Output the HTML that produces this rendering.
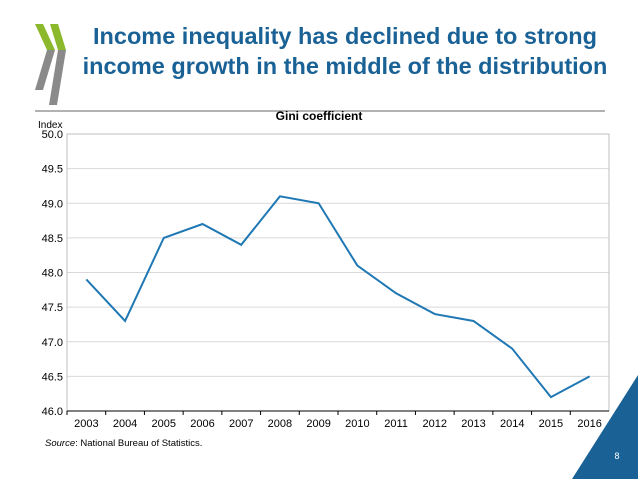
<!DOCTYPE html>
<html><head><meta charset="utf-8"><style>
body{margin:0;background:#fff;}
svg{display:block;font-family:"Liberation Sans",Arial,sans-serif;}
</style></head><body>
<svg id="c" width="638" height="479" viewBox="0 0 638 479">
<g>
<polygon points="35,24 43,24 55,50 47,50" fill="#8cb82b"/>
<polygon points="47,50 55,50 43,90 35,90" fill="#8a8a8a"/>
<polygon points="50,24 58,24 66,50 58,50" fill="#8cb82b"/>
<polygon points="58,50 66,50 57,105 49,105" fill="#8a8a8a"/>
</g>
<text x="345" y="44" text-anchor="middle" font-size="23.5" font-weight="bold" fill="#1a6296">Income inequality has declined due to strong</text>
<text x="345" y="74" text-anchor="middle" font-size="23.5" font-weight="bold" fill="#1a6296">income growth in the middle of the distribution</text>
<line x1="35" y1="111" x2="605" y2="111" stroke="#666" stroke-width="1"/>
<text x="319" y="120" text-anchor="middle" font-size="12" font-weight="bold" fill="#000">Gini coefficient</text>
<text x="38" y="128" font-size="10" fill="#000">Index</text>
<g id="grid"></g><g id="ax"></g><g id="series"></g>
<text x="45" y="446" font-size="9.5" fill="#000"><tspan font-style="italic">Source</tspan>: National Bureau of Statistics.</text>
<polygon points="638,375 638,479 572,479" fill="#1a6296"/>
<text x="617" y="459" font-size="9" fill="#fff" text-anchor="middle">8</text>
</svg>
<script>
const categories=["2003","2004","2005","2006","2007","2008","2009","2010","2011","2012","2013","2014","2015","2016"];
const giniValues=[47.9,47.3,48.5,48.7,48.4,49.1,49.0,48.1,47.7,47.4,47.3,46.9,46.2,46.5];
const yTicks=[46.0,46.5,47.0,47.5,48.0,48.5,49.0,49.5,50.0];
const NS="http://www.w3.org/2000/svg";
const L=67,R=609,T=134,B=411,ymin=46,ymax=50;
const bw=(R-L)/categories.length;
const xs=i=>L+bw*(i+0.5);
const ys=v=>B-(v-ymin)/(ymax-ymin)*(B-T);
function mk(tag,attrs,parent){const e=document.createElementNS(NS,tag);for(const k in attrs)e.setAttribute(k,attrs[k]);parent.appendChild(e);return e;}
const grid=document.getElementById('grid'),ax=document.getElementById('ax'),ser=document.getElementById('series');
yTicks.forEach(v=>{
  const y=ys(v);
  if(v>ymin){const g=mk('line',{x1:L,x2:R,y1:y,y2:y,stroke:'#d9d9d9','stroke-width':1},grid);
  
  }
  const t=mk('text',{x:L-4,y:y+4,'text-anchor':'end','font-size':11,fill:'#000'},ax);t.textContent=v.toFixed(1);
  
  
});
const fr=mk('rect',{x:L,y:T,width:R-L,height:B-T,fill:'none',stroke:'#bfbfbf','stroke-width':1},ax);


const xa=mk('line',{x1:L,x2:R,y1:B,y2:B,stroke:'#000','stroke-width':1},ax);


categories.forEach((c,i)=>{
  const tx=L+bw*i;
  const tk=mk('line',{x1:tx,x2:tx,y1:B,y2:B+4,stroke:'#000'},ax);
  
  
  const t=mk('text',{x:xs(i),y:B+16,'text-anchor':'middle','font-size':11,fill:'#000'},ax);t.textContent=c;
  
  
});
const p=mk('polyline',{points:giniValues.map((v,i)=>xs(i)+','+ys(v)).join(' '),fill:'none',stroke:'#1f78b4','stroke-width':2},ser);


</script>
</body></html>
